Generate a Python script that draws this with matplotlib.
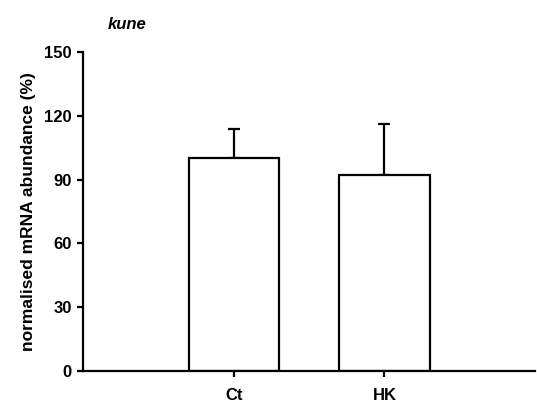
import matplotlib.pyplot as plt
import numpy as np

plt.rcParams['font.family'] = ['Liberation Sans', 'DejaVu Sans']
plt.rcParams['font.weight'] = 'bold'

groups = ['Ct', 'HK']
means = [100, 92]
sem_up = [14, 24]

fig = plt.figure(figsize=(5.37, 4.04), dpi=100)
ax = fig.add_axes([0.1546, 0.0817, 0.842, 0.789])

x = np.arange(len(groups))
ax.bar(x, means, width=0.6, color='white', edgecolor='black', linewidth=1.6, zorder=2)
ax.errorbar(x, means, yerr=[np.zeros(len(means)), sem_up], fmt='none',
            ecolor='black', elinewidth=1.6, capsize=4, capthick=1.6, zorder=1)

ax.set_xlim(-1, 2)
ax.set_ylim(0, 150)
ax.set_yticks([0, 30, 60, 90, 120, 150])
ax.set_xticks(x)
ax.set_xticklabels(groups)
for s in ['top', 'right']:
    ax.spines[s].set_visible(False)
for s in ['left', 'bottom']:
    ax.spines[s].set_linewidth(1.6)
ax.tick_params(direction='out', length=4, width=1.6, labelsize=12)
ax.tick_params(axis='x', pad=8)
ax.tick_params(axis='y', pad=4)
ax.set_ylabel('normalised mRNA abundance (%)', fontsize=12.5, fontweight='bold', labelpad=6)
fig.text(0.2, 0.94, 'kune', fontsize=12, fontweight='bold', style='italic', va='center')

fig.savefig('out.png', dpi=100)
